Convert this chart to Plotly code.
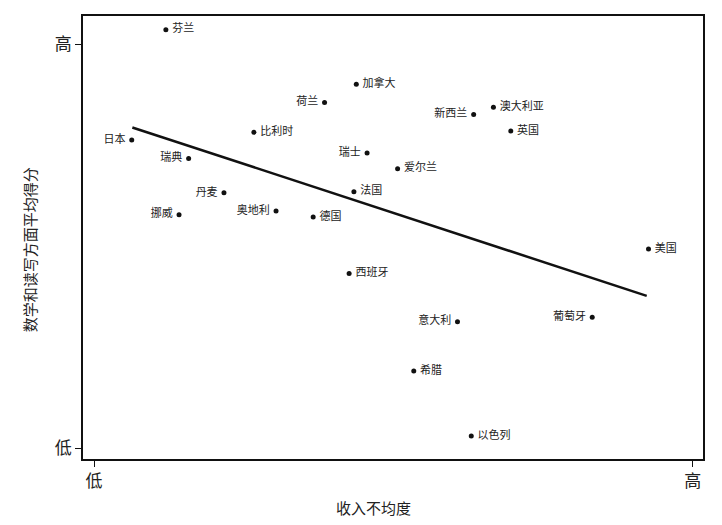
import plotly.graph_objects as go

countries = ["芬兰", "加拿大", "荷兰", "澳大利亚", "新西兰", "英国", "比利时", "日本",
             "瑞典", "瑞士", "爱尔兰", "法国", "丹麦", "挪威", "奥地利", "德国",
             "美国", "西班牙", "意大利", "葡萄牙", "希腊", "以色列"]
inequality = [12.0, 43.8, 38.5, 66.7, 63.4, 69.6, 26.7, 6.3,
              15.8, 45.6, 50.7, 43.4, 21.7, 14.2, 30.4, 36.6,
              92.6, 42.6, 60.7, 83.2, 53.4, 63.0]
scores = [103.6, 90.1, 85.6, 84.4, 82.6, 78.5, 78.2, 76.3,
          71.7, 73.1, 69.2, 63.5, 63.2, 57.8, 58.7, 57.2,
          49.3, 43.2, 31.3, 32.4, 19.1, 3.0]
label_side = ["R", "R", "L", "R", "L", "R", "R", "L",
              "L", "L", "R", "R", "L", "L", "L", "R",
              "R", "R", "L", "L", "R", "R"]
trend_x = [6.4, 92.3]
trend_y = [79.4, 37.7]
tick_vals = [0, 100]
tick_text = ["低", "高"]
x_title = "收入不均度"
y_title = "数学和读写方面平均得分"

font_family = "Noto Sans CJK SC"

fig = go.Figure()
fig.add_trace(go.Scatter(
    x=trend_x, y=trend_y, mode="lines",
    line=dict(color="#111111", width=2.5), hoverinfo="skip", showlegend=False))

for side, pos in (("R", "middle right"), ("L", "middle left")):
    xs = [x for x, s in zip(inequality, label_side) if s == side]
    ys = [y for y, s in zip(scores, label_side) if s == side]
    ts = [("\u2009" + c) if side == "R" else (c + "\u2009")
          for c, s in zip(countries, label_side) if s == side]
    fig.add_trace(go.Scatter(
        x=xs, y=ys, mode="markers+text", text=ts, textposition=pos,
        marker=dict(color="#111111", size=5),
        textfont=dict(family=font_family, size=11, color="#222222"),
        showlegend=False))

fig.update_layout(
    width=722, height=525,
    margin=dict(l=75, r=27, t=6, b=74),
    paper_bgcolor="white", plot_bgcolor="white",
    font=dict(family=font_family, color="#222222"),
    annotations=[
        dict(text=x_title, xref="paper", yref="paper", x=0.468, y=-0.110,
             xanchor="center", yanchor="middle", showarrow=False,
             font=dict(size=15, family=font_family, color="#222222")),
        dict(text=y_title, xref="paper", yref="paper", x=-0.085, y=0.472,
             xanchor="center", yanchor="middle", showarrow=False, textangle=-90,
             font=dict(size=15, family=font_family, color="#222222")),
    ],
)
fig.update_xaxes(
    range=[-1.84, 101.7], showgrid=False, zeroline=False,
    showline=True, mirror=True, linecolor="#111111", linewidth=1.5,
    ticks="outside", ticklen=6, tickcolor="#111111",
    tickvals=tick_vals, ticktext=tick_text, tickfont=dict(size=17))
fig.update_yaxes(
    range=[-2.71, 107.0], showgrid=False, zeroline=False,
    showline=True, mirror=True, linecolor="#111111", linewidth=1.5,
    ticks="outside", ticklen=6, tickcolor="#111111",
    tickvals=tick_vals, ticktext=tick_text, tickfont=dict(size=17))

fig.write_html("out.html")
